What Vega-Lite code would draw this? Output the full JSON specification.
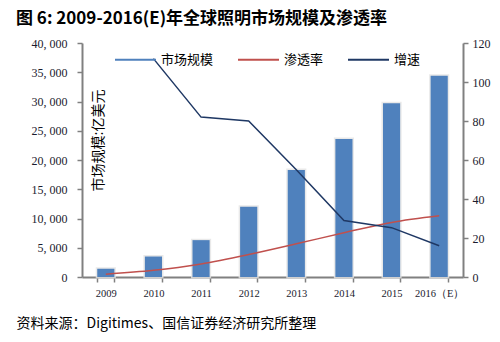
{
  "$schema": "https://vega.github.io/schema/vega-lite/v6.json",
  "width": 381,
  "height": 234,
  "autosize": "none",
  "padding": {"left": 82, "top": 43, "right": 37, "bottom": 65},
  "background": "white",
  "title": {
    "text": "图 6:  2009-2016(E)年全球照明市场规模及渗透率",
    "anchor": "start",
    "frame": "group",
    "dx": -66,
    "offset": 9,
    "font": "Noto Sans CJK SC",
    "fontSize": 17,
    "fontWeight": "bold",
    "color": "#000000"
  },
  "config": {
    "view": {"stroke": null},
    "axis": {
      "grid": false,
      "domainColor": "#808080",
      "domainWidth": 2,
      "tickColor": "#808080",
      "tickWidth": 1.5,
      "tickSize": 5,
      "labelFont": "Liberation Serif",
      "labelColor": "#1a1a2e",
      "labelFontSize": 12
    },
    "legend": {
      "labelFont": "Noto Sans CJK SC",
      "labelFontSize": 13,
      "labelColor": "#000000"
    }
  },
  "data": {
    "values": [
      {"year": "2009", "size": 1400, "pen": 1.4, "growth": null},
      {"year": "2010", "size": 3500, "pen": 3.4, "growth": 112},
      {"year": "2011", "size": 6300, "pen": 6.7, "growth": 82},
      {"year": "2012", "size": 12000, "pen": 11.5, "growth": 80},
      {"year": "2013", "size": 18300, "pen": 17, "growth": 55},
      {"year": "2014", "size": 23600, "pen": 22.7, "growth": 29},
      {"year": "2015", "size": 29700, "pen": 28, "growth": 25.3},
      {"year": "2016（E）", "size": 34400, "pen": 31.4, "growth": 16}
    ]
  },
  "encoding": {
    "x": {
      "field": "year",
      "type": "ordinal",
      "sort": null,
      "scale": {"paddingInner": 0.64, "paddingOuter": 0.32},
      "axis": {
        "labelAngle": 0,
        "tickBand": "extent",
        "labelFontSize": 10.5,
        "labelPadding": 6,
        "title": "资料来源：Digitimes、国信证券经济研究所整理",
        "titleFont": "Noto Sans CJK SC",
        "titleFontSize": 14,
        "titleFontWeight": "normal",
        "titleColor": "#000000",
        "titleAnchor": "start",
        "titleAlign": "left",
        "titleBaseline": "middle",
        "titleX": -66,
        "titleY": 46
      }
    }
  },
  "layer": [
    {
      "mark": {"type": "bar", "color": "#ffffff", "stroke": "#e3e3e3", "strokeWidth": 3, "strokeOpacity": 0.8},
      "encoding": {
        "y": {
          "field": "size",
          "type": "quantitative",
          "scale": {"domain": [0, 40000], "nice": false},
          "axis": null
        }
      }
    },
    {
      "mark": {"type": "bar", "color": "#4F81BD"},
      "encoding": {
        "y": {
          "field": "size",
          "type": "quantitative",
          "scale": {"domain": [0, 40000], "nice": false},
          "axis": {
            "values": [0, 5000, 10000, 15000, 20000, 25000, 30000, 35000, 40000],
            "labelExpr": "replace(format(datum.value, ',d'), ',', ', ')",
            "labelPadding": 10,
            "title": "市场规模:亿美元",
            "titleFont": "Noto Sans CJK SC",
            "titleFontSize": 14,
            "titleFontWeight": "normal",
            "titleColor": "#000000",
            "titleAngle": -90,
            "titleAlign": "center",
            "titleBaseline": "middle",
            "titleX": 16,
            "titleY": 97
          }
        },
        "color": {
          "datum": "市场规模",
          "type": "nominal",
          "scale": {
            "domain": ["市场规模", "渗透率", "增速"],
            "range": ["#4F81BD", "#C0504D", "#1F3864"]
          },
          "legend": {
            "title": null,
            "orient": "none",
            "legendX": 32,
            "legendY": -5,
            "direction": "horizontal",
            "symbolType": "stroke",
            "symbolSize": 1681,
            "symbolStrokeWidth": 2,
            "labelOffset": 4,
            "columnPadding": 20
          }
        }
      }
    },
    {
      "mark": {"type": "line", "interpolate": "monotone", "strokeWidth": 1.5},
      "encoding": {
        "y": {
          "field": "pen",
          "type": "quantitative",
          "scale": {"domain": [0, 120], "nice": false},
          "axis": {
            "orient": "right",
            "values": [0, 20, 40, 60, 80, 100, 120],
            "title": null,
            "labelPadding": 4
          }
        },
        "color": {"datum": "渗透率", "type": "nominal"}
      }
    },
    {
      "mark": {"type": "line", "strokeWidth": 1.5},
      "encoding": {
        "y": {
          "field": "growth",
          "type": "quantitative",
          "scale": {"domain": [0, 120], "nice": false},
          "axis": null
        },
        "color": {"datum": "增速", "type": "nominal"}
      }
    }
  ],
  "resolve": {"scale": {"y": "independent"}}
}
